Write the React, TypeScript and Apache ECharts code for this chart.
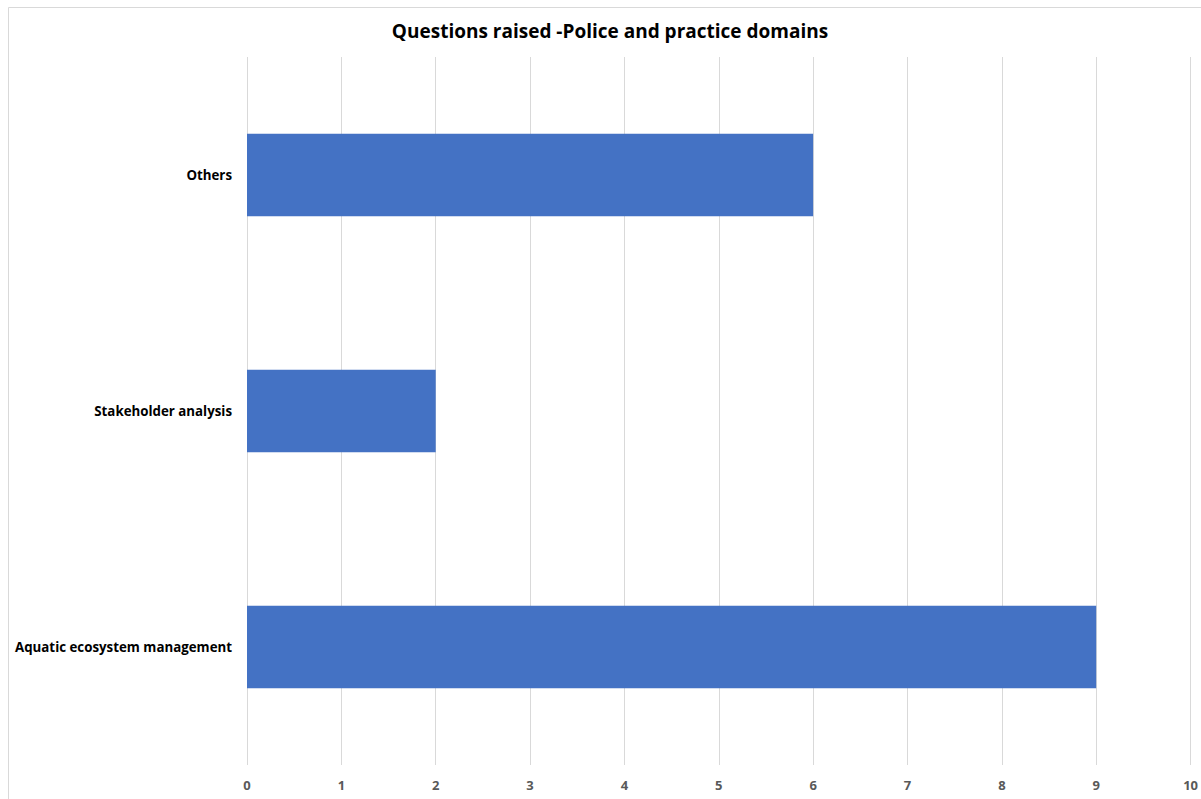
import React, { useEffect, useRef } from "react";
import * as echarts from "echarts";

const categories = ["Aquatic ecosystem management", "Stakeholder analysis", "Others"];
const questionCounts = [9, 2, 6];
const xTicks = { min: 0, max: 10, interval: 1 };

const FONT = "'Open Sans', 'Noto Sans', sans-serif";

export default function App() {
  const ref = useRef<HTMLDivElement>(null);

  useEffect(() => {
    if (!ref.current) return;
    const chart = echarts.init(ref.current, undefined, { renderer: "svg" });
    chart.setOption({
      animation: false,
      backgroundColor: "#ffffff",
      title: {
        text: "Questions raised -Police and practice domains",
        left: 605,
        top: 16,
        textAlign: "center",
        textStyle: { fontFamily: FONT, fontWeight: "bold", fontSize: 19, color: "#000000" },
      },
      graphic: [
        {
          type: "rect",
          shape: { x: 8.5, y: 7.5, width: 1220, height: 820 },
          style: { fill: "none", stroke: "#d9d9d9", lineWidth: 1 },
          silent: true,
        },
      ],
      grid: { left: 247, right: 7, top: 57, bottom: 34, containLabel: false },
      xAxis: {
        type: "value",
        min: xTicks.min,
        max: xTicks.max,
        interval: xTicks.interval,
        axisLine: { show: false },
        axisTick: { show: false },
        splitLine: { show: true, lineStyle: { color: "#d9d9d9", width: 1 } },
        axisLabel: {
          margin: 13,
          fontFamily: FONT,
          fontWeight: "bold",
          fontSize: 13,
          color: "#595959",
        },
      },
      yAxis: {
        type: "category",
        data: categories,
        axisLine: { show: false },
        axisTick: { show: false },
        axisLabel: {
          margin: 15,
          fontFamily: FONT,
          fontWeight: "bold",
          fontSize: 13.3,
          color: "#000000",
        },
      },
      series: [
        {
          type: "bar",
          data: questionCounts,
          barWidth: "35%",
          itemStyle: { color: "#4472c4" },
        },
      ],
    });
    return () => chart.dispose();
  }, []);

  return (
    <div
      ref={ref}
      style={{ position: "fixed", left: 0, top: 0, width: 1201, height: 799 }}
    />
  );
}
